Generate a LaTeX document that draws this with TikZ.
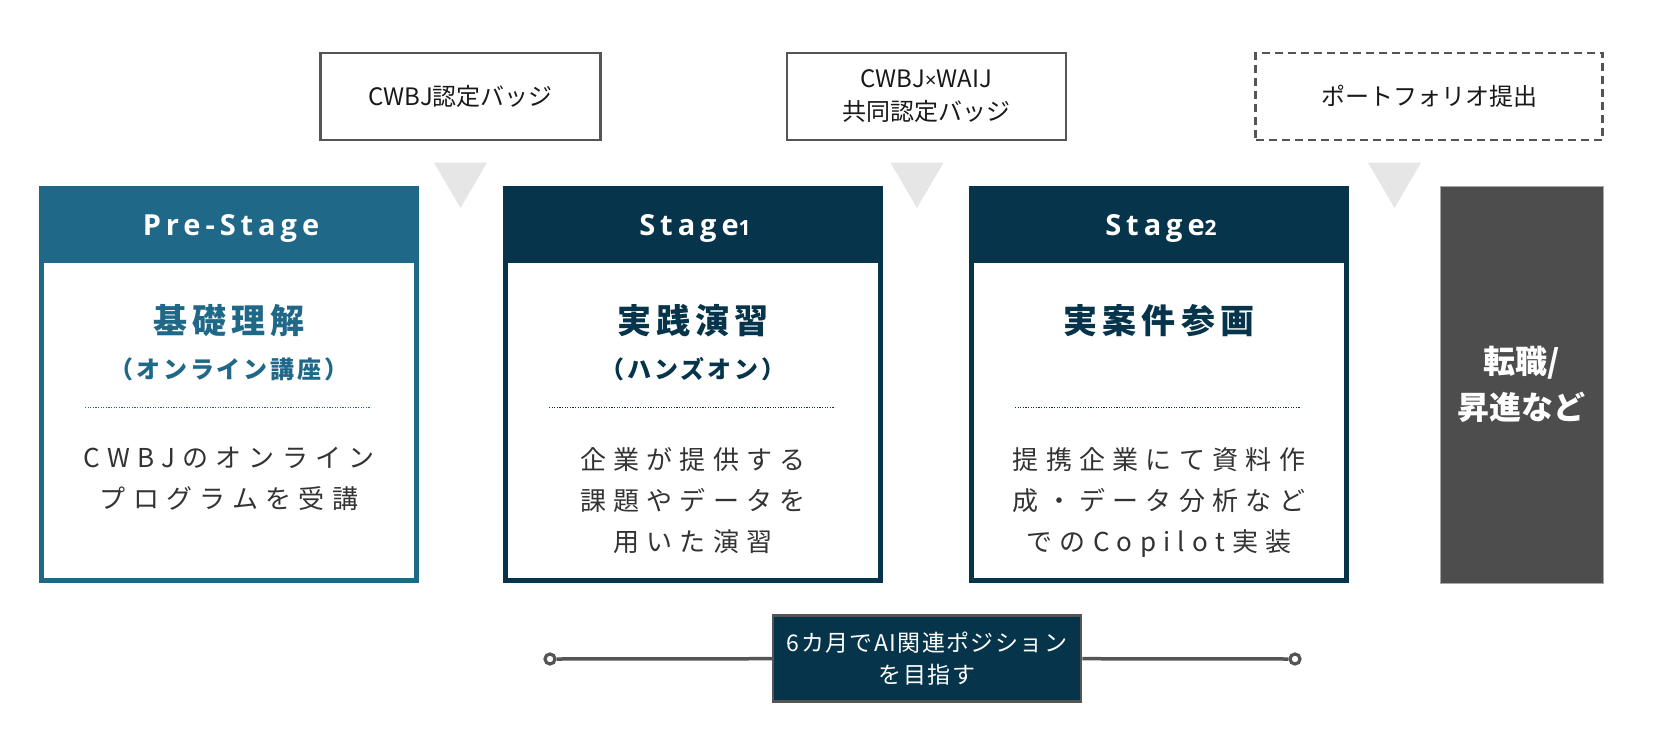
\documentclass[tikz,border=0pt]{standalone}
\usepackage{fontspec}
\setmainfont{Noto Sans CJK JP}
\newfontfamily\headfont[LetterSpace=17]{Open Sans}
\newfontfamily\titlefont[LetterSpace=15]{Noto Sans CJK JP}
\newfontfamily\subfont[LetterSpace=12]{Noto Sans CJK JP}
\newfontfamily\bodyfont[LetterSpace=28]{Noto Sans CJK JP}
\newfontfamily\goalfont[LetterSpace=6]{Noto Sans CJK JP}
\newfontfamily\timesfont{Noto Sans}
\usetikzlibrary{calc}
\definecolor{prestage}{HTML}{206888}
\definecolor{stagenavy}{HTML}{06344A}
\definecolor{finalgray}{HTML}{4D4D4D}
\definecolor{arrowgray}{HTML}{E6E6E6}
\definecolor{framegray}{HTML}{555555}
\definecolor{bodytext}{HTML}{333333}
\newcommand\stnum[1]{{\fontsize{10.5}{10.5}\selectfont #1}}
\newcommand\smalltimes{{\timesfont\fontsize{10}{10}\selectfont ×}}
\tikzset{
  badge/.style={draw=framegray, line width=1.25pt, fill=white, minimum height=43.5pt,
    inner sep=0pt, align=center, text=black!90, font=\fontsize{12}{16.5}\selectfont},
  stagehead/.style={anchor=base, inner sep=0pt, text=white,
    font=\headfont\bfseries\fontsize{14.5}{14.5}\selectfont},
  stagetitle/.style={inner sep=0pt, font=\titlefont\bfseries\fontsize{17}{17}\selectfont},
  stagesub/.style={inner sep=0pt, font=\subfont\bfseries\fontsize{12}{12}\selectfont},
  stagebody/.style={anchor=north, inner sep=0pt, align=center, text=bodytext,
    font=\bodyfont\fontsize{13}{20.5}\selectfont},
  goalbox/.style={draw=framegray, line width=1.25pt, fill=stagenavy, text=white,
    minimum width=154pt, minimum height=43pt, inner sep=0pt, align=center,
    font=\goalfont\fontsize{11.5}{16}\selectfont},
  tlend/.style={circle, draw=framegray, line width=1.6pt, fill=white,
    minimum size=5pt, inner sep=0pt}
}

\begin{document}
\begin{tikzpicture}[
    x=0.5pt, y=-0.5pt,
    line join=miter
]
    \useasboundingbox (0,0) rectangle (1660,746);

    % Badges above the stages
    \node[badge, minimum width=140pt] (badge1) at (460.7,96.5) {CWBJ認定バッジ};
    \node[badge, minimum width=139.5pt] (badge2) at (926.3,96.5) {CWBJ\smalltimes WAIJ\\共同認定バッジ};
    \node[badge, minimum width=173.5pt, dash pattern=on 4pt off 2.5pt] (badge3) at (1429,96.5) {ポートフォリオ提出};

    % Down triangles
    \foreach \tx in {460.5, 917, 1394.5} {
        \fill[arrowgray] (\tx-26.5,162.7) -- (\tx+26.5,162.7) -- (\tx,208) -- cycle;
    }

    % Stage cards
    \foreach \cx/\col/\hd/\ttl/\bdy [count=\i] in {
        39/prestage/Pre-Stage/基礎理解/{CWBJのオンライン\\プログラムを受講},
        503/stagenavy/Stage\stnum{1}/実践演習/{企業が提供する\\課題やデータを\\用いた演習},
        969/stagenavy/Stage\stnum{2}/実案件参画/{提携企業にて資料作\\成・データ分析など\\でのCopilot実装}} {
        \fill[\col] (\cx,186) rectangle ++(380,397);
        \fill[white] (\cx+5,263) rectangle (\cx+375,578);
        \node[stagehead] (head\i) at (\cx+192,235) {\hd};
        \node[stagetitle, text=\col] (title\i) at (\cx+190,321) {\ttl};
        \draw[\col, line width=0.75pt, dash pattern=on 0.6pt off 0.7pt] (\cx+46,407.5) -- (\cx+332,407.5);
        \node[stagebody] (body\i) at (\cx+190,447) {\bdy};
    }
    \node[stagesub, text=prestage] (sub1) at (229,369.5) {（オンライン講座）};
    \node[stagesub, text=stagenavy] (sub2) at (693,369.5) {（ハンズオン）};

    % Career box
    \node[fill=finalgray, draw=gray!70, line width=0.5pt, minimum width=81.5pt, minimum height=198.5pt,
          inner sep=0pt, align=center, text=white, font=\bfseries\fontsize{16}{23}\selectfont]
          (career) at (1521.5,384.5) {転職/\\昇進など};

    % Timeline
    \node[goalbox] (goal) at (927,658.5) {6カ月でAI関連ポジション\\を目指す};
    \node[tlend] (tlL) at (550,659) {};
    \node[tlend] (tlR) at (1295,659) {};
    \draw[framegray, line width=1.75pt] (tlL) -- (goal);
    \draw[framegray, line width=1.75pt] (goal) -- (tlR);

\end{tikzpicture}
\end{document}
